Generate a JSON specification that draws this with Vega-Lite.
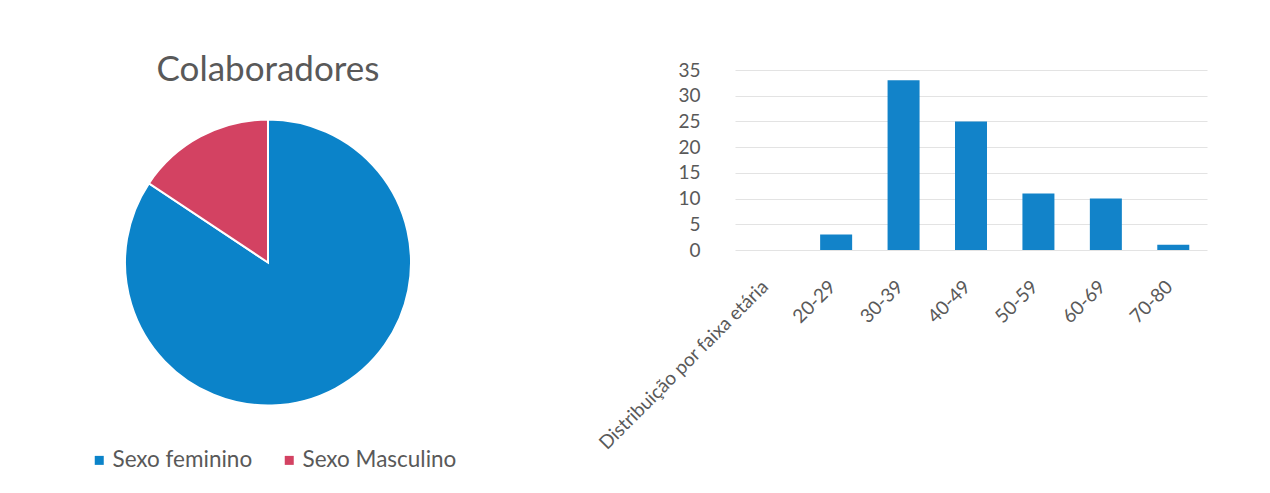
{
  "$schema": "https://vega.github.io/schema/vega-lite/v6.json",
  "padding": {"left": 8, "top": 53, "right": 10, "bottom": 0},
  "autosize": {"type": "pad"},
  "background": "white",
  "config": {
    "view": {"stroke": null},
    "font": "Lato",
    "axis": {"labelColor": "#595959", "labelFont": "Lato"},
    "legend": {"labelFont": "Lato"}
  },
  "bounds": "flush",
  "spacing": 207,
  "hconcat": [
    {
      "width": 520,
      "height": 385,
      "title": {"text": "Colaboradores", "fontSize": 35, "font": "Lato", "fontWeight": "normal", "color": "#595959", "offset": -18, "anchor": "middle"},
      "data": {"values": [
        {"sexo": "Sexo feminino", "n": 70, "ordem": 1},
        {"sexo": "Sexo Masculino", "n": 13, "ordem": 2}
      ]},
      "mark": {"type": "arc", "outerRadius": 143, "stroke": "white", "strokeWidth": 2},
      "encoding": {
        "theta": {"field": "n", "type": "quantitative", "stack": true},
        "order": {"field": "ordem", "type": "quantitative"},
        "color": {
          "field": "sexo", "type": "nominal",
          "scale": {"domain": ["Sexo feminino", "Sexo Masculino"], "range": ["#0B83C9", "#D34262"]},
          "legend": {"orient": "none", "legendX": 80, "legendY": 379, "title": null, "direction": "horizontal", "symbolType": "square", "symbolSize": 81, "symbolStrokeWidth": 0, "labelFontSize": 22.5, "labelColor": "#595959", "columnPadding": 25, "labelOffset": 2}
        }
      }
    },
    {
      "width": 472,
      "height": 180,
      "data": {"values": [
        {"faixa": "Distribuição por faixa etária", "n": 0},
        {"faixa": "20-29", "n": 3},
        {"faixa": "30-39", "n": 33},
        {"faixa": "40-49", "n": 25},
        {"faixa": "50-59", "n": 11},
        {"faixa": "60-69", "n": 10},
        {"faixa": "70-80", "n": 1}
      ]},
      "mark": {"type": "bar", "color": "#1283C9", "width": 32},
      "encoding": {
        "x": {"field": "faixa", "type": "nominal", "sort": null,
          "axis": {"title": null, "labelAngle": -45, "labelFontSize": 19, "ticks": false, "domain": false, "labelPadding": 27, "labelOffset": -10, "labelLimit": 400, "grid": false}},
        "y": {"field": "n", "type": "quantitative", "scale": {"domain": [0, 35]},
          "axis": {"title": null, "values": [0, 5, 10, 15, 20, 25, 30, 35], "ticks": false, "domain": false, "labelPadding": 35, "labelFontSize": 19, "gridColor": "#e3e3e3"}}
      }
    }
  ]
}
